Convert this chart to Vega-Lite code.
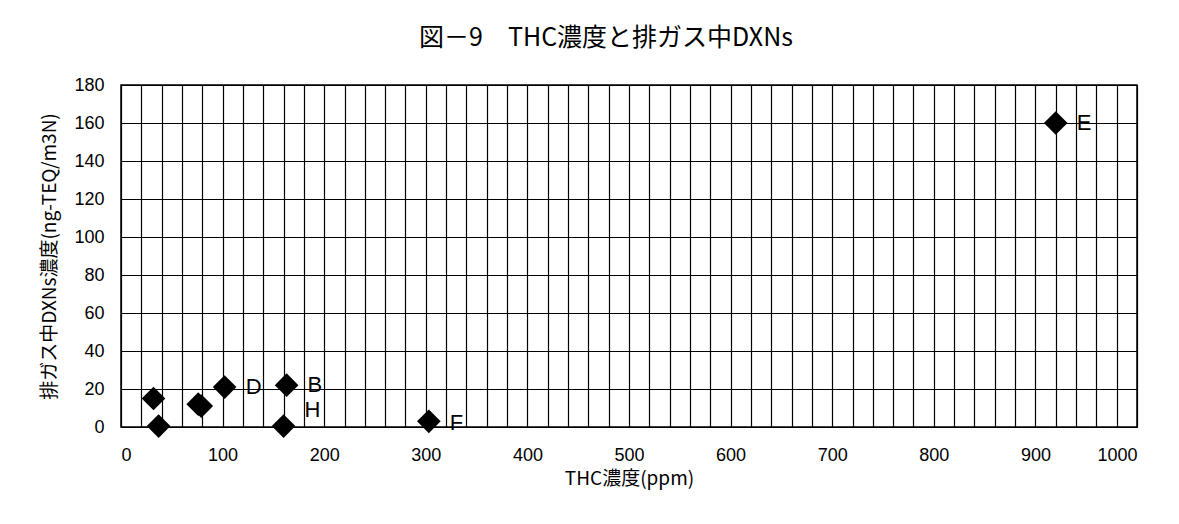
{
  "$schema": "https://vega.github.io/schema/vega-lite/v6.json",
  "width": 1016,
  "height": 342,
  "autosize": "none",
  "padding": {"left": 121, "top": 85, "right": 42, "bottom": 97},
  "background": "white",
  "title": {
    "text": "図－9　THC濃度と排ガス中DXNs",
    "font": "Noto Sans CJK JP",
    "fontSize": 25,
    "fontWeight": "normal",
    "color": "black",
    "anchor": "middle",
    "dx": -23,
    "offset": 25
  },
  "data": {
    "values": [
      {"thc": 32, "dxn": 15, "label": "", "ly": 15},
      {"thc": 37, "dxn": 0.5, "label": "", "ly": 0.5},
      {"thc": 76, "dxn": 12, "label": "", "ly": 12},
      {"thc": 79, "dxn": 11, "label": "", "ly": 11},
      {"thc": 102, "dxn": 21, "label": "D", "ly": 21},
      {"thc": 163, "dxn": 22, "label": "B", "ly": 22},
      {"thc": 160, "dxn": 0.5, "label": "H", "ly": 9},
      {"thc": 303, "dxn": 3, "label": "F", "ly": 2},
      {"thc": 920, "dxn": 160, "label": "E", "ly": 160}
    ]
  },
  "config": {
    "view": {"stroke": "black", "strokeWidth": 1.5},
    "axis": {
      "gridColor": "black",
      "gridOpacity": 1,
      "gridWidth": 1.2,
      "domain": false,
      "ticks": false,
      "tickSize": 0,
      "labelFont": "Liberation Sans",
      "labelFontSize": 18,
      "labelColor": "black",
      "labelOverlap": false,
      "titleFont": "Noto Sans CJK JP",
      "titleFontSize": 19,
      "titleFontWeight": "normal",
      "titleColor": "black"
    }
  },
  "encoding": {
    "x": {
      "field": "thc",
      "type": "quantitative",
      "scale": {"domain": [0, 1000], "nice": false},
      "axis": {
        "title": "THC濃度(ppm)",
        "values": [0,20,40,60,80,100,120,140,160,180,200,220,240,260,280,300,320,340,360,380,400,420,440,460,480,500,520,540,560,580,600,620,640,660,680,700,720,740,760,780,800,820,840,860,880,900,920,940,960,980,1000],
        "format": "d",
        "labelExpr": "datum.value % 100 === 0 ? datum.label : ''",
        "labelPadding": 19,
        "titlePadding": 5
      }
    },
    "y": {
      "field": "dxn",
      "type": "quantitative",
      "scale": {"domain": [0, 180], "nice": false},
      "axis": {
        "title": "排ガス中DXNs濃度(ng-TEQ/m3N)",
        "values": [0,20,40,60,80,100,120,140,160,180],
        "format": "d",
        "labelPadding": 17,
        "titlePadding": 14
      }
    }
  },
  "layer": [
    {
      "mark": {"type": "point", "shape": "diamond", "filled": true, "color": "black", "opacity": 1, "size": 560}
    },
    {
      "mark": {"type": "text", "align": "left", "baseline": "middle", "dx": 21, "font": "Liberation Sans", "fontSize": 22, "color": "black"},
      "encoding": {
        "y": {"field": "ly", "type": "quantitative"},
        "text": {"field": "label"}
      }
    }
  ]
}
